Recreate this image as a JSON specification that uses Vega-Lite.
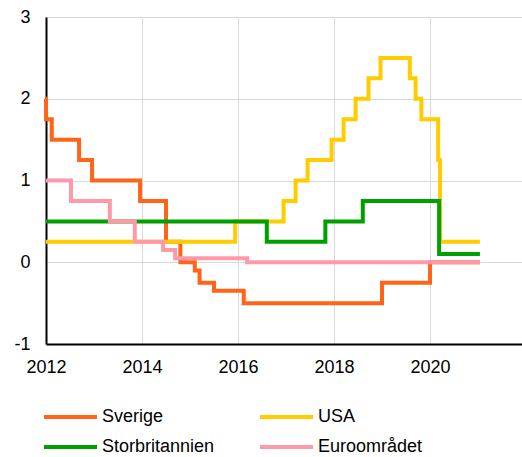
{
  "$schema": "https://vega.github.io/schema/vega-lite/v6.json",
  "width": 476,
  "height": 327,
  "autosize": {"type": "none"},
  "padding": {"left": 46, "top": 17, "right": 0, "bottom": 113},
  "background": "white",
  "config": {
    "view": {"stroke": null},
    "font": "Liberation Sans",
    "axis": {
      "grid": true,
      "gridColor": "#D9D9D9",
      "gridWidth": 1,
      "domainColor": "black",
      "domainWidth": 2,
      "ticks": false,
      "labelFontSize": 18,
      "labelColor": "black",
      "labelFont": "Liberation Sans",
      "title": null,
      "labelOverlap": false
    },
    "axisX": {"labelPadding": 14, "labelFlush": false},
    "axisY": {"labelPadding": 16},
    "legend": {
      "labelFont": "Liberation Sans",
      "labelFontSize": 18,
      "labelColor": "black",
      "symbolType": "stroke",
      "symbolSize": 2809,
      "symbolStrokeWidth": 4,
      "labelOffset": 3,
      "padding": 0
    }
  },
  "datasets": {
    "rates": [
      {"land": "Sverige", "year": 2012.0, "rate": 2.0},
      {"land": "Sverige", "year": 2012.001, "rate": 1.75},
      {"land": "Sverige", "year": 2012.12, "rate": 1.5},
      {"land": "Sverige", "year": 2012.69, "rate": 1.25},
      {"land": "Sverige", "year": 2012.96, "rate": 1.0},
      {"land": "Sverige", "year": 2013.96, "rate": 0.75},
      {"land": "Sverige", "year": 2014.5, "rate": 0.25},
      {"land": "Sverige", "year": 2014.8, "rate": 0.0},
      {"land": "Sverige", "year": 2015.1, "rate": -0.1},
      {"land": "Sverige", "year": 2015.2, "rate": -0.25},
      {"land": "Sverige", "year": 2015.5, "rate": -0.35},
      {"land": "Sverige", "year": 2016.12, "rate": -0.5},
      {"land": "Sverige", "year": 2019.0, "rate": -0.25},
      {"land": "Sverige", "year": 2020.0, "rate": 0.0},
      {"land": "Sverige", "year": 2021.04, "rate": 0.0},
      {"land": "USA", "year": 2012.0, "rate": 0.25},
      {"land": "USA", "year": 2015.94, "rate": 0.5},
      {"land": "USA", "year": 2016.95, "rate": 0.75},
      {"land": "USA", "year": 2017.2, "rate": 1.0},
      {"land": "USA", "year": 2017.45, "rate": 1.25},
      {"land": "USA", "year": 2017.95, "rate": 1.5},
      {"land": "USA", "year": 2018.2, "rate": 1.75},
      {"land": "USA", "year": 2018.45, "rate": 2.0},
      {"land": "USA", "year": 2018.72, "rate": 2.25},
      {"land": "USA", "year": 2018.97, "rate": 2.5},
      {"land": "USA", "year": 2019.58, "rate": 2.25},
      {"land": "USA", "year": 2019.7, "rate": 2.0},
      {"land": "USA", "year": 2019.82, "rate": 1.75},
      {"land": "USA", "year": 2020.17, "rate": 1.25},
      {"land": "USA", "year": 2020.21, "rate": 0.25},
      {"land": "USA", "year": 2021.04, "rate": 0.25},
      {"land": "Storbritannien", "year": 2012.0, "rate": 0.5},
      {"land": "Storbritannien", "year": 2016.6, "rate": 0.25},
      {"land": "Storbritannien", "year": 2017.82, "rate": 0.5},
      {"land": "Storbritannien", "year": 2018.6, "rate": 0.75},
      {"land": "Storbritannien", "year": 2020.19, "rate": 0.1},
      {"land": "Storbritannien", "year": 2021.04, "rate": 0.1},
      {"land": "Euroområdet", "year": 2012.0, "rate": 1.0},
      {"land": "Euroområdet", "year": 2012.52, "rate": 0.75},
      {"land": "Euroområdet", "year": 2013.33, "rate": 0.5},
      {"land": "Euroområdet", "year": 2013.85, "rate": 0.25},
      {"land": "Euroområdet", "year": 2014.44, "rate": 0.15},
      {"land": "Euroområdet", "year": 2014.69, "rate": 0.05},
      {"land": "Euroområdet", "year": 2016.19, "rate": 0.0},
      {"land": "Euroområdet", "year": 2021.04, "rate": 0.0}
    ]
  },
  "layer": [
    {
      "mark": {"type": "rule", "color": "black", "strokeWidth": 1.5},
      "encoding": {
        "y": {"datum": 0, "type": "quantitative", "scale": {"domain": [-1, 3], "nice": false, "zero": false}, "axis": {"values": [-1, 0, 1, 2, 3], "labelExpr": "'' + datum.value"}}
      }
    },
    {
      "mark": {"type": "rule", "color": "black", "strokeWidth": 2},
      "encoding": {
        "y": {"datum": 3, "type": "quantitative"}
      }
    },
    {
      "data": {"name": "rates"},
      "mark": {"type": "line", "interpolate": "step-after", "strokeWidth": 4},
      "encoding": {
        "x": {"field": "year", "type": "quantitative", "scale": {"domain": [2012, 2021.9167], "nice": false, "zero": false}, "axis": {"values": [2012, 2014, 2016, 2018, 2020], "labelExpr": "'' + datum.value"}},
        "y": {"field": "rate", "type": "quantitative"},
        "color": {
          "field": "land",
          "type": "nominal",
          "scale": {"domain": ["Sverige", "USA", "Storbritannien", "Euroområdet"], "range": ["#FF6418", "#FFCC00", "#00A000", "#FF99AA"]},
          "legend": {"title": null, "orient": "none", "legendX": -4, "legendY": 389, "columns": 2, "direction": "horizontal", "columnPadding": 43, "rowPadding": 8, "clipHeight": 22}
        }
      }
    }
  ]
}
